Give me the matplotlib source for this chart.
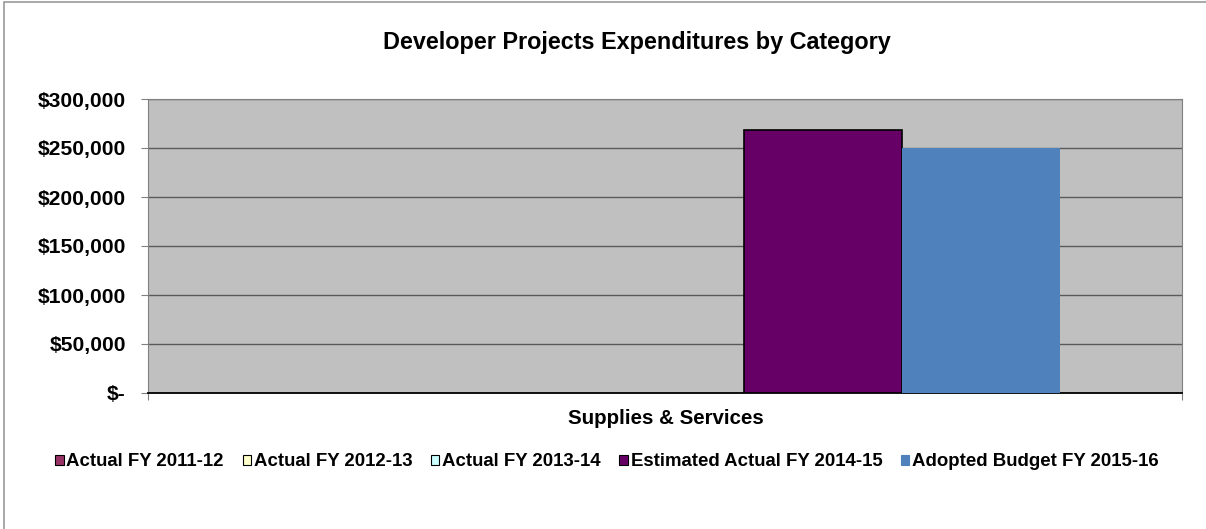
import matplotlib.pyplot as plt
import matplotlib.patches as mpatches
from matplotlib.ticker import FuncFormatter

plt.rcParams['font.family'] = ['Liberation Sans', 'DejaVu Sans']

# Data
categories = ["Supplies & Services"]
series = ["Actual FY 2011-12", "Actual FY 2012-13", "Actual FY 2013-14",
          "Estimated Actual FY 2014-15", "Adopted Budget FY 2015-16"]
values = [0, 0, 0, 268000, 250000]
colors = ["#993366", "#FFFFCC", "#CCFFFF", "#660066", "#4F81BD"]
edges = ["black", "black", "black", "black", "none"]

fig = plt.figure(figsize=(12.06, 5.29), dpi=100)
ax = fig.add_axes([148 / 1206, 1 - 393 / 529, (1182 - 148) / 1206, (393 - 99) / 529])

# outer chart frame (only left and top edges visible in the original)
fig.patches.append(mpatches.Rectangle((0.0035, -0.02), 1.1, 1.016, transform=fig.transFigure,
                                      fill=False, edgecolor="#9a9a9a", linewidth=1.2))

w = 158 / 1034
for i, (name, v) in enumerate(zip(series, values)):
    if v > 0:
        ax.bar(0 + (i - 2) * w, v, width=w, color=colors[i],
               edgecolor=edges[i], linewidth=1.2 if edges[i] != "none" else 0, zorder=3)

ax.set_facecolor("#C0C0C0")
ax.set_xlim(-0.5, 0.5)
ax.set_ylim(0, 300000)
ax.set_yticks(range(0, 300001, 50000))
ax.yaxis.set_major_formatter(FuncFormatter(lambda v, p: "$-" if v == 0 else f"${v:,.0f}"))
ax.grid(axis="y", color="#5a5a5a", linewidth=1.0, zorder=1)
ax.set_axisbelow(True)

ax.set_xticks([-0.5, 0.5])
ax.set_xticklabels(["", ""])
ax.tick_params(axis="x", direction="out", length=5, color="#808080")
ax.tick_params(axis="y", direction="out", length=5, color="#808080", labelsize=15.2, pad=11)
for lbl in ax.get_yticklabels():
    lbl.set_fontweight("bold")

for s in ["top", "right", "left"]:
    ax.spines[s].set_color("#808080")
ax.spines["bottom"].set_color("black")
ax.spines["bottom"].set_linewidth(1.3)

fig.text(666 / 1206, 1 - 418 / 529, categories[0], ha="center", va="center",
         fontsize=14.8, fontweight="bold")
fig.text(637 / 1206, 1 - 43 / 529, "Developer Projects Expenditures by Category",
         ha="center", va="center", fontsize=16.8, fontweight="bold")

handles = [mpatches.Patch(facecolor=c, edgecolor=("black" if e != "none" else c), linewidth=0.8)
           for c, e in zip(colors, edges)]
fig.legend(handles, series, loc="center", bbox_to_anchor=(607 / 1206, 1 - 462 / 529), ncol=5,
           frameon=False, handlelength=0.45, handleheight=0.5, handletextpad=0.15,
           columnspacing=1.0, prop={"weight": "bold", "size": 13.4})

fig.savefig("out.png", dpi=100)
